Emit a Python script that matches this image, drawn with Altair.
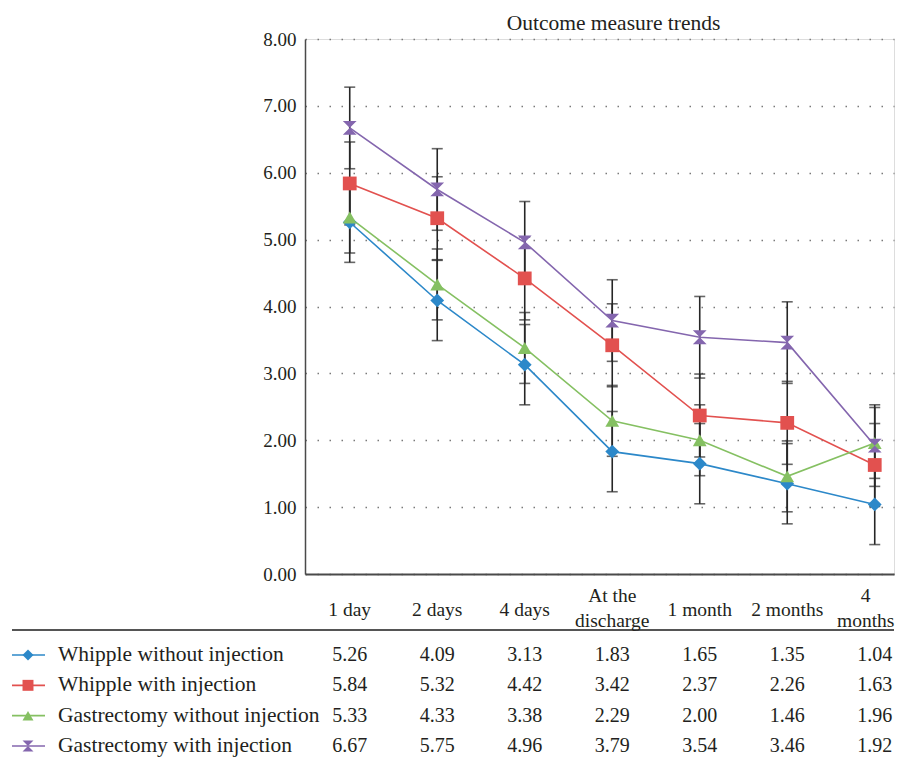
import altair as alt
import pandas as pd

categories = ["1 day", "2 days", "4 days", "At the discharge", "1 month", "2 months", "4 months"]
header_line1 = ["1 day", "2 days", "4 days", "At the", "1 month", "2 months", "4"]
header_line2 = ["", "", "", "discharge", "", "", "months"]
series_names = [
    "Whipple without injection",
    "Whipple with injection",
    "Gastrectomy without injection",
    "Gastrectomy with injection",
]
whipple_without = [5.26, 4.09, 3.13, 1.83, 1.65, 1.35, 1.04]
whipple_with = [5.84, 5.32, 4.42, 3.42, 2.37, 2.26, 1.63]
gastrectomy_without = [5.33, 4.33, 3.38, 2.29, 2.00, 1.46, 1.96]
gastrectomy_with = [6.67, 5.75, 4.96, 3.79, 3.54, 3.46, 1.92]
# half-length of the error bars (one per series)
error_half = [0.60, 0.62, 0.53, 0.61]
y_ticks = [0, 1, 2, 3, 4, 5, 6, 7, 8]

colors = ["#2c88c9", "#e2514f", "#85c062", "#8466ae"]
shapes = ["diamond", "square", "triangle-up", "M-1,-1L1,-1L-1,1L1,1Z"]
FONT = "Liberation Serif"
TXT = "#231f20"

all_values = [whipple_without, whipple_with, gastrectomy_without, gastrectomy_with]
rows = []
for s, vals, e in zip(series_names, all_values, error_half):
    for c, v in zip(categories, vals):
        rows.append({"series": s, "category": c, "value": v, "lo": v - e, "hi": v + e})
df = pd.DataFrame(rows)
series_df = pd.DataFrame({"series": series_names})
cat_df = pd.DataFrame({
    "category": categories,
    "line1": header_line1,
    "line2": header_line2,
    "multi": [l2 != "" for l2 in header_line2],
    "last": [i == len(categories) - 1 for i in range(len(categories))],
})
border_df = pd.DataFrame({"d": [0]})

W = 589
xscale = alt.Scale(type="point", domain=categories, padding=0.3657, align=0.699)
color_enc = alt.Color("series:N", scale=alt.Scale(domain=series_names, range=colors), legend=None)
shape_enc = alt.Shape("series:N", scale=alt.Scale(domain=series_names, range=shapes), legend=None)

x_top = alt.X(
    "category:N", sort=categories, scale=xscale,
    axis=alt.Axis(title=None, ticks=False, labels=False, grid=False, domain=True,
                  domainColor="#4a4a4a", domainWidth=2),
)
yscale = alt.Scale(domain=[0, 8], nice=False)
y_axis = alt.Axis(values=y_ticks, format=".2f", title=None, ticks=False, tickSize=0,
                  labelPadding=9, labelFont=FONT, labelFontSize=19, labelColor=TXT,
                  grid=True, gridDash=[1.5, 10.5], gridColor="#7a7a7a", gridWidth=1.3,
                  domainColor="#4a4a4a", domainWidth=1.5)

base = alt.Chart(df)
err_rule = base.mark_rule(color="#262626", strokeWidth=1.6).encode(
    x=x_top, y=alt.Y("lo:Q", scale=yscale, axis=y_axis), y2="hi:Q")
cap_lo = base.mark_tick(color="#262626", size=11, thickness=1.6, orient="horizontal").encode(
    x=x_top, y=alt.Y("lo:Q", scale=yscale, axis=y_axis))
cap_hi = base.mark_tick(color="#262626", size=11, thickness=1.6, orient="horizontal").encode(
    x=x_top, y=alt.Y("hi:Q", scale=yscale, axis=y_axis))
lines = base.mark_line(strokeWidth=1.6).encode(
    x=x_top, y=alt.Y("value:Q", scale=yscale, axis=y_axis), color=color_enc, detail="series:N")
points = base.mark_point(filled=True, opacity=1, size=190).encode(
    x=x_top, y=alt.Y("value:Q", scale=yscale, axis=y_axis), color=color_enc, shape=shape_enc)

top = alt.layer(err_rule, cap_lo, cap_hi, lines, points).properties(
    width=W, height=535,
    title=alt.TitleParams("Outcome measure trends", font=FONT, fontSize=21.5,
                          fontWeight="normal", color=TXT, anchor="middle", dx=14, offset=-4),
)

# data table below the chart
yrow = alt.Y("series:N", sort=series_names,
             scale=alt.Scale(type="point", domain=series_names, padding=0.412, align=1),
             axis=None)
x_tab = alt.X("category:N", sort=categories, scale=xscale, axis=None)
head_style = dict(font=FONT, fontSize=19.5, color=TXT, align="center", baseline="middle")

border = alt.Chart(border_df).mark_rule(color="#555555", strokeWidth=2).encode(
    x=alt.value(-293), x2=alt.value(W), y=alt.value(0))
head_single = alt.Chart(cat_df).transform_filter("!datum.multi").mark_text(**head_style).encode(
    x=x_tab, y=alt.value(-20), text="line1:N")
head_first = alt.Chart(cat_df).transform_filter("datum.multi && !datum.last").mark_text(
    **head_style).encode(x=x_tab, y=alt.value(-34), text="line1:N")
head_second = alt.Chart(cat_df).transform_filter("datum.multi && !datum.last").mark_text(
    **head_style).encode(x=x_tab, y=alt.value(-9), text="line2:N")
# the last header sits a little left of its column, as in the original table
head_last1 = alt.Chart(cat_df).transform_filter("datum.last").mark_text(
    dx=-9, **head_style).encode(x=x_tab, y=alt.value(-34), text="line1:N")
head_last2 = alt.Chart(cat_df).transform_filter("datum.last").mark_text(
    dx=-9, **head_style).encode(x=x_tab, y=alt.value(-9), text="line2:N")
cells = alt.Chart(df).mark_text(font=FONT, fontSize=20, color=TXT, align="center",
                                baseline="middle").encode(
    x=x_tab, y=yrow, text=alt.Text("value:Q", format=".2f"))
row_labels = alt.Chart(series_df).mark_text(font=FONT, fontSize=21.5, color=TXT, align="left",
                                            baseline="middle").encode(
    x=alt.value(-247), y=yrow, text="series:N")
leg_lines = alt.Chart(series_df).mark_rule(strokeWidth=1.6).encode(
    x=alt.value(-293), x2=alt.value(-260), y=yrow, color=color_enc)
leg_points = alt.Chart(series_df).mark_point(filled=True, opacity=1, size=120).encode(
    x=alt.value(-277), y=yrow, color=color_enc, shape=shape_enc)

table = alt.layer(border, head_single, head_first, head_second, head_last1, head_last2,
                  leg_lines, leg_points, row_labels, cells).properties(
    width=W, height=116, view=alt.ViewBackground(stroke="transparent", strokeWidth=0))

chart = alt.vconcat(top, table, spacing=1).resolve_scale(
    x="shared", y="independent", color="shared", shape="shared"
).properties(
    padding={"left": 3, "top": 4, "right": 0, "bottom": 0}
).configure_view(stroke="transparent", strokeWidth=0).configure(font=FONT)

chart.save("out.html", embed_options={"renderer": "svg", "actions": False})
